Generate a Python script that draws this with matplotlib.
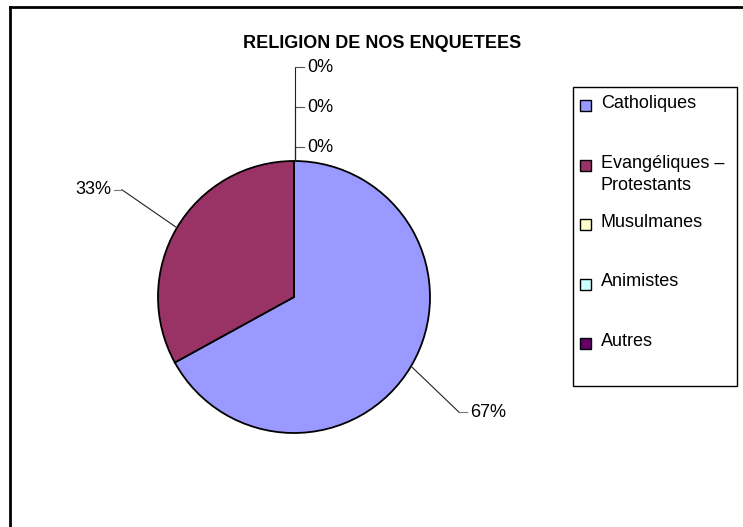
import matplotlib
matplotlib.use('Agg')
import matplotlib.pyplot as plt
from matplotlib.patches import Rectangle
import numpy as np

plt.rcParams['font.family'] = ['Liberation Sans', 'DejaVu Sans']

title = "RELIGION DE NOS ENQUETEES"
categories = ["Catholiques", "Evangéliques –\nProtestants", "Musulmanes", "Animistes", "Autres"]
values = [67, 33, 0, 0, 0]
colors = ["#9999FF", "#993366", "#FFFFCC", "#CCFFFF", "#660066"]

fig = plt.figure(figsize=(7.43, 5.27), dpi=100)
ax = fig.add_axes([0, 0, 1, 1])

cx, cy, r = 294, 297, 136
wedges, _ = ax.pie(values, colors=colors, startangle=-90, counterclock=True,
                   center=(cx, cy), radius=r,
                   wedgeprops=dict(edgecolor='black', linewidth=1.3))
ax.set_xlim(0, 743)
ax.set_ylim(527, 0)
ax.axis('off')

# outer frame (only top and left visible)
ax.plot([10, 743], [7, 7], color='black', lw=2)
ax.plot([10, 10], [7, 527], color='black', lw=2)

ax.text(382, 44, title, ha='center', va='center', fontsize=13, fontweight='bold')

# data labels
total = sum(values)
offsets = {0: (48, 46), 1: (-55, -38)}
zero_k = 0
for i, (w, v) in enumerate(zip(wedges, values)):
    lab = "%d%%" % round(100 * v / total)
    ang = np.deg2rad((w.theta1 + w.theta2) / 2)
    ex, ey = cx + r * np.cos(ang), cy + r * np.sin(ang)
    if v > 0:
        dx, dy = offsets[i]
        kx, ky = ex + dx, ey + dy
        side = 1 if dx > 0 else -1
        ax.plot([ex, kx], [ey, ky], color='#222222', lw=0.8)
        ax.plot([kx, kx + side * 8], [ky, ky], color='#777777', lw=0.8)
        ax.text(kx + side * 11, ky, lab, ha='left' if side > 0 else 'right',
                va='center', fontsize=13)
    else:
        ty = cy - r - 14 - 40 * zero_k
        ax.plot([cx + 1, cx + 1], [cy - r, ty], color='#222222', lw=0.8)
        ax.plot([cx + 1, cx + 10], [ty, ty], color='#555555', lw=0.8)
        ax.text(cx + 13, ty, lab, ha='left', va='center', fontsize=13)
        zero_k += 1

# legend
ax.add_patch(Rectangle((573, 87), 164, 299, facecolor='white', edgecolor='black', lw=1.0))
for i, (cat, col) in enumerate(zip(categories, colors)):
    y = 105 + 59.5 * i
    ax.add_patch(Rectangle((580, y - 5), 11, 11, facecolor=col, edgecolor='black', lw=1.0))
    ax.text(601, y - 10, cat, ha='left', va='top', fontsize=13, linespacing=1.4)

fig.savefig('out.png', dpi=100)
